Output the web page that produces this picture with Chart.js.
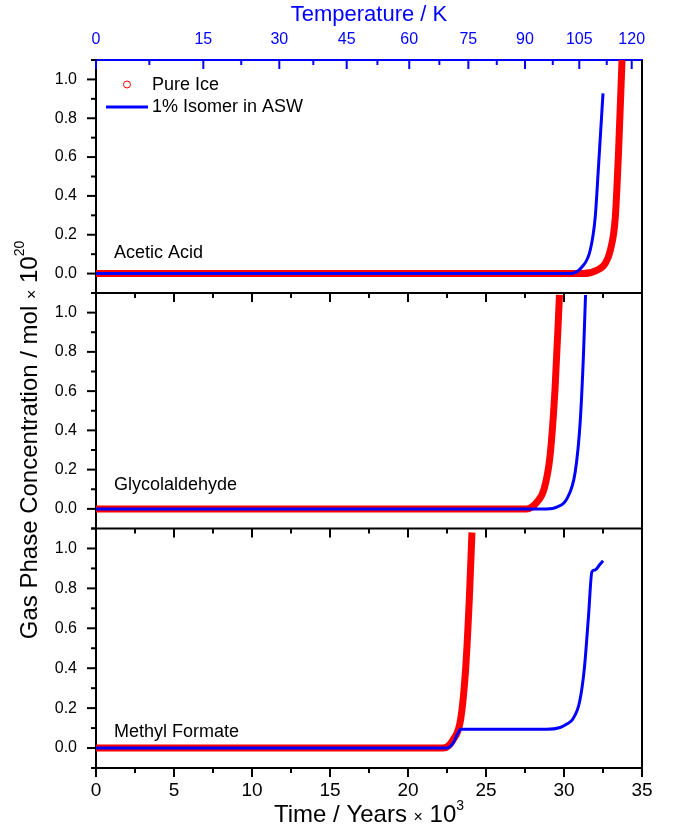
<!DOCTYPE html>
<html>
<head>
<meta charset="utf-8">
<script src="https://cdn.jsdelivr.net/npm/chart.js@4/dist/chart.umd.min.js"></script>
<style>
  html, body { margin: 0; padding: 0; background: #fff; }
  canvas { display: block; }
</style>
</head>
<body>
<canvas id="myChart" width="674" height="830"></canvas>
<script>
// time in years x 10^3, concentration in mol x 10^20
const acidIceTime = [0, 31.2, 32.1, 32.64, 32.97, 33.29, 33.5, 33.72];
const acidIceConc = [0, 0, 0.017, 0.052, 0.12, 0.292, 0.636, 1.1];
const acidAswTime = [0, 30.4, 31.15, 31.68, 32.0, 32.21, 32.5];
const acidAswConc = [0, 0, 0.034, 0.12, 0.29, 0.55, 0.928];

const glyIceTime = [0, 27.6, 28.26, 28.73, 29.11, 29.43, 29.71];
const glyIceConc = [0, 0, 0.034, 0.103, 0.274, 0.618, 1.09];
const glyAswTime = [0, 28.9, 29.54, 30.18, 30.72, 31.04, 31.25, 31.38];
const glyAswConc = [0, 0, 0.009, 0.051, 0.189, 0.446, 0.79, 1.09];

const mfIceTime = [0, 22.26, 22.9, 23.38, 23.7, 23.93, 24.1];
const mfIceConc = [0, 0, 0.043, 0.146, 0.403, 0.746, 1.08];
const mfAswTime = [0, 22.48, 22.9, 23.16, 23.38, 28.9, 29.75, 30.18, 30.57, 31.0, 31.31, 31.57, 31.79, 32.0, 32.28, 32.5];
const mfAswConc = [0, 0, 0.026, 0.068, 0.094, 0.094, 0.103, 0.12, 0.146, 0.232, 0.403, 0.66, 0.883, 0.892, 0.918, 0.938];

const seriesNames = ['Pure Ice', '1% Isomer in ASW'];
const panelNames = ['Acetic Acid', 'Glycolaldehyde', 'Methyl Formate'];
const panelNameAt = [0.105, 0.12, 0.08];

const timeTicks = [0, 5, 10, 15, 20, 25, 30, 35];
const timeMinor = [2.5, 7.5, 12.5, 17.5, 22.5, 27.5, 32.5];
const concTicks = [0, 0.2, 0.4, 0.6, 0.8, 1.0];
const concMinor = [-0.1, 0.1, 0.3, 0.5, 0.7, 0.9, 1.1];
// temperature axis is not linear in time: label -> time position
const tempLabels = ['0', '15', '30', '45', '60', '75', '90', '105', '120'];
const tempTickTime = [0, 6.88, 11.75, 16.07, 20.08, 23.87, 27.5, 30.98, 34.34];
const tempMinorTime = [3.42, 9.31, 13.93, 18.04, 22.01, 25.69, 29.28, 32.74];

const RED = '#ff0000';
const BLUE = '#0000ff';
const FONT = '"Liberation Sans", Arial, sans-serif';
Chart.defaults.font.family = FONT;

function pts(xs, ys) {
    return xs.map((x, i) => ({x: x, y: ys[i]}));
}

function iceSet(xs, ys, axis) {
    return {label: seriesNames[0], data: pts(xs, ys), yAxisID: axis, borderColor: RED,
        borderWidth: 7, pointRadius: 0, cubicInterpolationMode: 'monotone', order: 2};
}
function aswSet(xs, ys, axis) {
    return {label: seriesNames[1], data: pts(xs, ys), yAxisID: axis, borderColor: BLUE,
        borderWidth: 3, pointRadius: 0, cubicInterpolationMode: 'monotone', order: 1};
}

function panelAxis(weight, stackWeight) {
    return {
        type: 'linear', position: 'left', stack: 'panels', weight: weight, stackWeight: stackWeight,
        min: -0.1, max: 1.1,
        afterBuildTicks: s => { s.ticks = concTicks.map(v => ({value: v})); },
        ticks: {callback: v => v.toFixed(1), font: {size: 16}, color: '#000', padding: 19},
        grid: {display: false, drawTicks: false},
        border: {color: '#000', width: 2},
        afterFit: s => { s.width = 96; }
    };
}

function line(ctx, x1, y1, x2, y2) {
    ctx.beginPath();
    ctx.moveTo(x1, y1);
    ctx.lineTo(x2, y2);
    ctx.stroke();
}

// draws text pieces (with superscripts) centred on cx along the baseline
function drawParts(ctx, parts, cx, baseY) {
    let total = 0;
    parts.forEach(p => { ctx.font = p.size + 'px ' + FONT; p.w = ctx.measureText(p.t).width; total += p.w; });
    let x = cx - total / 2;
    parts.forEach(p => {
        ctx.font = p.size + 'px ' + FONT;
        ctx.fillText(p.t, x, baseY + (p.dy || 0));
        x += p.w;
    });
}

const frameAndText = {
    id: 'frameAndText',
    afterDatasetsDraw(chart) {
        const ctx = chart.ctx;
        const a = chart.chartArea;
        const xs = chart.scales.x;
        const xt = chart.scales.xT;
        const panels = [chart.scales.y1, chart.scales.y2, chart.scales.y3];
        ctx.save();
        ctx.lineWidth = 2;
        ctx.strokeStyle = '#000';
        line(ctx, a.right, a.top, a.right, a.bottom);
        line(ctx, a.left, panels[0].bottom, a.right, panels[0].bottom);
        line(ctx, a.left, panels[1].bottom, a.right, panels[1].bottom);

        panels.forEach(s => {
            concTicks.forEach(v => { const p = s.getPixelForValue(v); line(ctx, a.left - 9, p, a.left, p); });
            concMinor.forEach(v => { const p = s.getPixelForValue(v); line(ctx, a.left - 5, p, a.left, p); });
            timeTicks.forEach(v => { const p = xs.getPixelForValue(v); line(ctx, p, s.bottom, p, s.bottom + 9); });
            timeMinor.forEach(v => { const p = xs.getPixelForValue(v); line(ctx, p, s.bottom, p, s.bottom + 5); });
        });

        ctx.strokeStyle = BLUE;
        tempTickTime.forEach(v => { const p = xt.getPixelForValue(v); line(ctx, p, a.top, p, a.top + 9); });
        tempMinorTime.forEach(v => { const p = xt.getPixelForValue(v); line(ctx, p, a.top, p, a.top + 5); });

        // panel names
        ctx.fillStyle = '#000';
        ctx.textAlign = 'left';
        ctx.textBaseline = 'middle';
        ctx.font = '18px ' + FONT;
        panels.forEach((s, i) => ctx.fillText(panelNames[i], a.left + 18, s.getPixelForValue(panelNameAt[i])));

        // legend
        ctx.strokeStyle = RED;
        ctx.lineWidth = 1;
        ctx.beginPath();
        ctx.arc(a.left + 31, a.top + 24.5, 3.5, 0, 2 * Math.PI);
        ctx.stroke();
        ctx.fillText(seriesNames[0], a.left + 56, a.top + 25);
        ctx.strokeStyle = BLUE;
        ctx.lineWidth = 3;
        line(ctx, a.left + 10, a.top + 47, a.left + 52, a.top + 47);
        ctx.fillText(seriesNames[1], a.left + 56, a.top + 47);

        // axis titles
        ctx.textBaseline = 'alphabetic';
        drawParts(ctx, [
            {t: 'Time / Years ', size: 24},
            {t: '\u00d7', size: 16},
            {t: ' 10', size: 24},
            {t: '3', size: 14, dy: -12}
        ], (a.left + a.right) / 2, 822);

        ctx.translate(37, 440);
        ctx.rotate(-Math.PI / 2);
        drawParts(ctx, [
            {t: 'Gas Phase Concentration / mol ', size: 24},
            {t: '\u00d7', size: 16},
            {t: ' 10', size: 24},
            {t: '20', size: 14, dy: -13}
        ], 0, 0);
        ctx.restore();
    }
};

new Chart(document.getElementById('myChart'), {
    type: 'line',
    data: {
        datasets: [
            iceSet(acidIceTime, acidIceConc, 'y1'),
            aswSet(acidAswTime, acidAswConc, 'y1'),
            iceSet(glyIceTime, glyIceConc, 'y2'),
            aswSet(glyAswTime, glyAswConc, 'y2'),
            iceSet(mfIceTime, mfIceConc, 'y3'),
            aswSet(mfAswTime, mfAswConc, 'y3')
        ]
    },
    options: {
        responsive: false,
        animation: false,
        layout: {padding: {left: 0, right: 32, top: 0, bottom: 0}},
        plugins: {legend: {display: false}, tooltip: {enabled: false}},
        scales: {
            x: {
                type: 'linear', position: 'bottom', min: 0, max: 35,
                afterBuildTicks: s => { s.ticks = timeTicks.map(v => ({value: v})); },
                ticks: {font: {size: 19}, color: '#000', padding: 11, maxRotation: 0, autoSkip: false},
                grid: {display: false, drawTicks: false},
                border: {color: '#000', width: 2},
                afterFit: s => { s.height = 62; }
            },
            xT: {
                type: 'linear', position: 'top', min: 0, max: 35,
                afterBuildTicks: s => { s.ticks = tempTickTime.map(v => ({value: v})); },
                ticks: {callback: (v, i) => tempLabels[i], font: {size: 16}, color: BLUE, padding: 11,
                    maxRotation: 0, autoSkip: false},
                grid: {display: false, drawTicks: false},
                border: {color: BLUE, width: 2},
                title: {display: true, text: 'Temperature / K', color: BLUE, font: {size: 22},
                    padding: {top: 2, bottom: 0}},
                afterFit: s => { s.height = 60; }
            },
            y1: panelAxis(3, 233),
            y2: panelAxis(2, 235.5),
            y3: panelAxis(1, 239.5)
        }
    },
    plugins: [frameAndText]
});
</script>
</body>
</html>
